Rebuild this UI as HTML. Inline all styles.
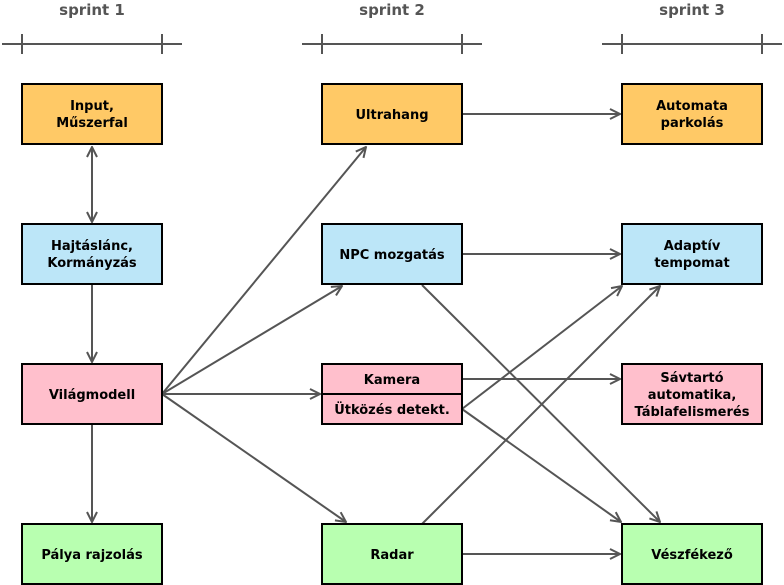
<!DOCTYPE html>
<html><head><meta charset="utf-8"><style>
html,body{margin:0;padding:0;background:#fff;width:784px;height:585px;overflow:hidden}
text{font-family:"DejaVu Sans","Liberation Sans",sans-serif;font-weight:bold;font-size:13px;fill:#000;text-anchor:middle}
.h{font-size:15px;fill:#555}
</style></head><body>
<svg width="784" height="585" viewBox="0 0 784 585" xmlns="http://www.w3.org/2000/svg">
<defs>
<marker id="a" viewBox="0 0 12 12" refX="11" refY="6" markerWidth="12" markerHeight="12" markerUnits="userSpaceOnUse" orient="auto-start-reverse">
<path d="M1,1 L11,6 L1,11" fill="none" stroke="#555" stroke-width="2"/>
</marker>
</defs>
<g stroke="#555" stroke-width="2">
<line x1="2" y1="44" x2="182" y2="44"/><line x1="22" y1="34" x2="22" y2="54"/><line x1="162" y1="34" x2="162" y2="54"/>
<line x1="302" y1="44" x2="482" y2="44"/><line x1="322" y1="34" x2="322" y2="54"/><line x1="462" y1="34" x2="462" y2="54"/>
<line x1="602" y1="44" x2="782" y2="44"/><line x1="622" y1="34" x2="622" y2="54"/><line x1="762" y1="34" x2="762" y2="54"/>
</g>
<text class="h" x="92" y="15">sprint 1</text>
<text class="h" x="392" y="15">sprint 2</text>
<text class="h" x="692" y="15">sprint 3</text>
<g stroke="#555" stroke-width="2" fill="none" marker-end="url(#a)">
<line x1="92" y1="147" x2="92" y2="222" marker-start="url(#a)"/>
<line x1="92" y1="285" x2="92" y2="362"/>
<line x1="92" y1="425" x2="92" y2="522"/>
<line x1="162" y1="394" x2="366" y2="147"/>
<line x1="162" y1="394" x2="342" y2="286"/>
<line x1="162" y1="394" x2="320" y2="394"/>
<line x1="162" y1="394" x2="346" y2="522"/>
<line x1="462" y1="114" x2="620" y2="114"/>
<line x1="462" y1="254" x2="620" y2="254"/>
<line x1="422" y1="285" x2="660" y2="522"/>
<line x1="462" y1="379" x2="620" y2="379"/>
<line x1="462" y1="409" x2="622" y2="286"/>
<line x1="462" y1="409" x2="621" y2="522"/>
<line x1="422" y1="524" x2="660" y2="286"/>
<line x1="462" y1="554" x2="620" y2="554"/>
</g>
<g stroke="#000" stroke-width="2">
<rect x="22" y="84" width="140" height="60" fill="#ffc966"/>
<rect x="322" y="84" width="140" height="60" fill="#ffc966"/>
<rect x="622" y="84" width="140" height="60" fill="#ffc966"/>
<rect x="22" y="224" width="140" height="60" fill="#bce6f8"/>
<rect x="322" y="224" width="140" height="60" fill="#bce6f8"/>
<rect x="622" y="224" width="140" height="60" fill="#bce6f8"/>
<rect x="22" y="364" width="140" height="60" fill="#ffbfcc"/>
<rect x="322" y="364" width="140" height="60" fill="#ffbfcc"/>
<line x1="322" y1="394" x2="462" y2="394"/>
<rect x="622" y="364" width="140" height="60" fill="#ffbfcc"/>
<rect x="22" y="524" width="140" height="60" fill="#b8ffb0"/>
<rect x="322" y="524" width="140" height="60" fill="#b8ffb0"/>
<rect x="622" y="524" width="140" height="60" fill="#b8ffb0"/>
</g>
<text x="92" y="110">Input,</text><text x="92" y="127">Műszerfal</text>
<text x="392" y="119">Ultrahang</text>
<text x="692" y="110">Automata</text><text x="692" y="127">parkolás</text>
<text x="92" y="250">Hajtáslánc,</text><text x="92" y="267">Kormányzás</text>
<text x="392" y="259">NPC mozgatás</text>
<text x="692" y="250">Adaptív</text><text x="692" y="267">tempomat</text>
<text x="92" y="399">Világmodell</text>
<text x="392" y="384">Kamera</text>
<text x="392" y="414">Ütközés detekt.</text>
<text x="692" y="382">Sávtartó</text><text x="692" y="399">automatika,</text><text x="692" y="416">Táblafelismerés</text>
<text x="92" y="559">Pálya rajzolás</text>
<text x="392" y="559">Radar</text>
<text x="692" y="559">Vészfékező</text>
</svg>
</body></html>
